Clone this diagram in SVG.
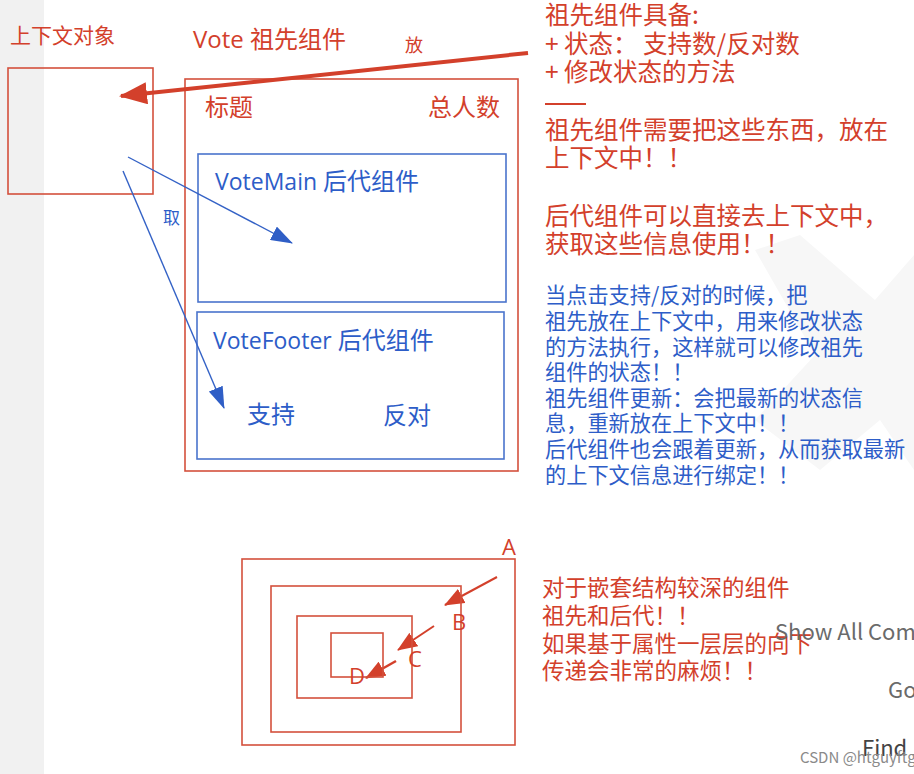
<svg xmlns="http://www.w3.org/2000/svg" width="914" height="774" viewBox="0 0 914 774">
<style>
  text { font-family: "Noto Sans CJK SC", "Noto Sans", "Liberation Sans", sans-serif; }
  .lat { font-family: "Open Sans", "Liberation Sans", sans-serif; }
  .red { fill: #d3402b; }
  .blue { fill: #2d5dc8; }
  .gray { fill: #6a6a6a; }
  .rbox { fill: none; stroke: #d4503c; stroke-width: 1.6; }
  .bbox { fill: none; stroke: #4a74cc; stroke-width: 1.6; }
  .rline { stroke: #d3402b; fill: none; }
  .bline { stroke: #3462c6; stroke-width: 1.4; fill: none; }
</style>
<defs>
  <marker id="ahRedBig" markerUnits="userSpaceOnUse" markerWidth="28" markerHeight="22" refX="26" refY="11" orient="auto">
    <path d="M0,0 L28,11 L0,22 z" fill="#d3402b"/>
  </marker>
  <marker id="ahRed" markerUnits="userSpaceOnUse" markerWidth="20" markerHeight="16" refX="19" refY="8" orient="auto">
    <path d="M0,0 L20,8 L0,16 z" fill="#d3402b"/>
  </marker>
  <marker id="ahBlue" markerUnits="userSpaceOnUse" markerWidth="22" markerHeight="15" refX="21" refY="7.5" orient="auto">
    <path d="M0,0 L22,7.5 L0,15 z" fill="#2f5ec6"/>
  </marker>
</defs>

<rect x="0" y="0" width="914" height="774" fill="#ffffff"/>
<rect x="0" y="0" width="44" height="774" fill="#f1f1f1"/>
<path d="M755,250 L800,235 L875,300 L914,255 L914,470 L880,420 L820,470 L755,420 L815,355 Z" fill="#f7f7f7"/>

<g id="context-object">
  <text x="10" y="43" class="red" font-size="21">上下文对象</text>
  <rect x="8" y="68" width="145" height="126" class="rbox"/>
</g>

<g id="ancestor-vote">
  <text x="193" y="48" class="red" font-size="24"><tspan class="lat">Vote </tspan>祖先组件</text>
  <rect x="185" y="79" width="333" height="392" class="rbox"/>
  <text x="205" y="116" class="red" font-size="24">标题</text>
  <text x="500" y="116" class="red" font-size="24" text-anchor="end">总人数</text>
</g>

<g id="vote-main">
  <rect x="198" y="154" width="308" height="148" class="bbox"/>
  <text x="215" y="190" class="blue" font-size="24"><tspan class="lat" font-size="23">VoteMain </tspan>后代组件</text>
</g>

<g id="vote-footer">
  <rect x="197" y="312" width="307" height="147" class="bbox"/>
  <text x="213" y="349" class="blue" font-size="24"><tspan class="lat" font-size="23">VoteFooter </tspan>后代组件</text>
  <text x="247" y="423" class="blue" font-size="24">支持</text>
  <text x="383" y="424" class="blue" font-size="24">反对</text>
</g>

<g id="connectors">
  <line x1="528" y1="53" x2="121" y2="96" class="rline" stroke-width="4" marker-end="url(#ahRedBig)"/>
  <text x="405" y="52" class="red" font-size="18">放</text>
  <line x1="128" y1="157" x2="292" y2="243" class="bline" marker-end="url(#ahBlue)"/>
  <line x1="123" y1="171" x2="224" y2="408" class="bline" marker-end="url(#ahBlue)"/>
  <text x="163" y="224" class="blue" font-size="17">取</text>
  <line x1="497" y1="577" x2="445" y2="605" class="rline" stroke-width="2" marker-end="url(#ahRed)"/>
  <line x1="434" y1="626" x2="398" y2="650" class="rline" stroke-width="2" marker-end="url(#ahRed)"/>
  <line x1="396" y1="661" x2="366" y2="678" class="rline" stroke-width="2.5" marker-end="url(#ahRed)"/>
</g>

<g id="note-ancestor">
  <text class="red" font-size="24.5">
    <tspan x="545" y="24">祖先组件具备:</tspan>
    <tspan x="545" y="53">+ 状态： 支持数/反对数</tspan>
    <tspan x="545" y="81">+ 修改状态的方法</tspan>
  </text>
  <line x1="545" y1="104" x2="586" y2="104" stroke="#d3402b" stroke-width="2"/>
  <text class="red" font-size="24.5">
    <tspan x="545" y="139">祖先组件需要把这些东西，放在</tspan>
    <tspan x="545" y="167">上下文中！！</tspan>
    <tspan x="545" y="225">后代组件可以直接去上下文中，</tspan>
    <tspan x="545" y="253">获取这些信息使用！！</tspan>
  </text>
</g>

<g id="note-update">
  <text class="blue" font-size="21.2">
    <tspan x="545" y="303">当点击支持/反对的时候，把</tspan>
    <tspan x="545" y="329">祖先放在上下文中，用来修改状态</tspan>
    <tspan x="545" y="355">的方法执行，这样就可以修改祖先</tspan>
    <tspan x="545" y="380">组件的状态！！</tspan>
    <tspan x="545" y="406">祖先组件更新：会把最新的状态信</tspan>
    <tspan x="545" y="431">息，重新放在上下文中！！</tspan>
    <tspan x="545" y="457">后代组件也会跟着更新，从而获取最新</tspan>
    <tspan x="545" y="483">的上下文信息进行绑定！！</tspan>
  </text>
</g>

<g id="nest-a">
  <rect x="242" y="559" width="273" height="186" class="rbox"/>
  <text x="502" y="555" class="red lat" font-size="22">A</text>
</g>
<g id="nest-b">
  <rect x="271" y="586" width="190" height="146" class="rbox"/>
  <text x="452" y="630" class="red lat" font-size="22">B</text>
</g>
<g id="nest-c">
  <rect x="297" y="616" width="115" height="82" class="rbox"/>
  <text x="408" y="667" class="red lat" font-size="22">C</text>
</g>
<g id="nest-d">
  <rect x="331" y="633" width="52" height="44" class="rbox"/>
  <text x="349" y="684" class="red lat" font-size="22">D</text>
</g>

<g id="note-nesting">
  <text class="red" font-size="22.5">
    <tspan x="542" y="596">对于嵌套结构较深的组件</tspan>
    <tspan x="542" y="624">祖先和后代！！</tspan>
    <tspan x="542" y="652">如果基于属性一层层的向下</tspan>
    <tspan x="542" y="679">传递会非常的麻烦！！</tspan>
  </text>
</g>

<g id="overlay-texts">
  <text x="775" y="640" class="gray" font-size="22" font-family="Liberation Sans, sans-serif">Show All Com</text>
  <text x="888" y="698" class="gray" font-size="22" font-family="Liberation Sans, sans-serif">Go</text>
  <text x="862" y="756" fill="#444" font-size="22" font-family="Liberation Sans, sans-serif">Find</text>
  <text x="800" y="763" fill="#8a8a8a" font-size="15" font-family="Liberation Sans, sans-serif">CSDN @htguyftg</text>
</g>
</svg>
